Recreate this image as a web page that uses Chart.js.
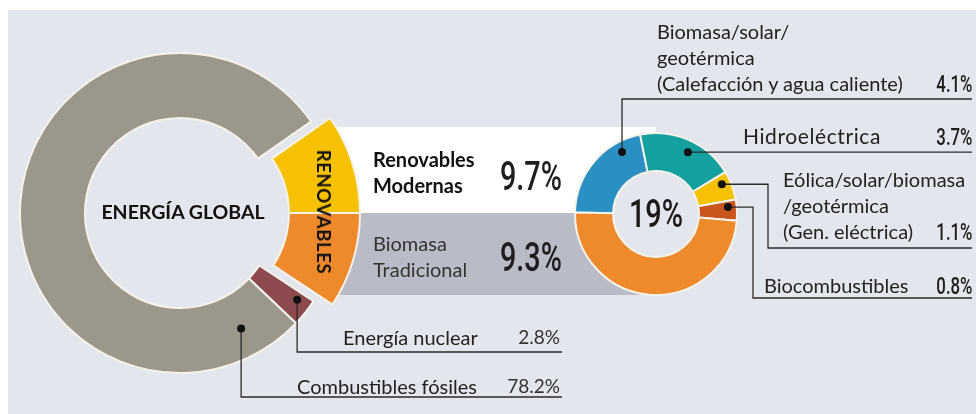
<!DOCTYPE html>
<html>
<head>
<meta charset="utf-8">
<script src="https://cdn.jsdelivr.net/npm/chart.js@4"></script>
<style>
  html,body{margin:0;padding:0;background:#fff;}
  #wrap{position:relative;width:976px;height:414px;overflow:hidden;background:#fff;}
  #bg{position:absolute;left:8px;top:10px;right:0;bottom:0;background:#e4e6ee;}
  #boxW{position:absolute;left:338px;top:127px;width:318px;height:86px;background:#ffffff;}
  #boxG{position:absolute;left:338px;top:213px;width:318px;height:82px;background:#b9bcc7;}
  canvas{position:absolute;left:0;top:0;}
  .t{position:absolute;white-space:pre;font-family:Lato,'Open Sans',sans-serif;font-size:20px;line-height:26px;color:#222;}
  .b{font-weight:700;color:#111;}
  .n{position:absolute;white-space:nowrap;font-family:Roboto,sans-serif;font-weight:500;color:#1e1e1e;transform-origin:100% 50%;}
  .nl{transform-origin:0 50%;}
</style>
</head>
<body>
<div id="wrap">
  <div id="bg"></div>
  <div id="boxW"></div>
  <div id="boxG"></div>
  <canvas id="cA" width="976" height="414"></canvas>
  <canvas id="cB" width="976" height="414"></canvas>
  <canvas id="cC" width="976" height="414"></canvas>
  <div id="labels"></div>
</div>
<script>
// ---- data ----
const globalCats = ['Renovables Modernas', 'Biomasa Tradicional', 'Energía nuclear', 'Combustibles fósiles'];
const globalValues = [9.7, 9.3, 2.8, 78.2];
const renewCats = ['Biomasa/solar/\ngeotérmica\n(Calefacción y agua caliente)', 'Hidroeléctrica', 'Eólica/solar/biomasa\n/geotérmica\n(Gen. eléctrica)', 'Biocombustibles', 'Biomasa Tradicional'];
const renewValues = [4.1, 3.7, 1.1, 0.8, 9.3];
const centerLabel = 'ENERGÍA GLOBAL';
const ringLabel = 'RENOVABLES';

// ---- styles ----
const globalColors = ['#f6c100', '#ef8a2c', '#8c4a4f', '#9c978b'];
const renewColors = ['#2a8fc2', '#15a0a0', '#f6c100', '#c8561d', '#ef8a2c'];
const edge = '#f5f2ea';
const clear = 'rgba(0,0,0,0)';
const pageBg = '#e4e6ee';

const connectorPlugin = {
  id: 'connectors',
  beforeDatasetsDraw(chart, args, opts) {
    if (!opts.fillHole) return;
    const el = chart.getDatasetMeta(0).data[0];
    const p = el.getProps(['x','y','innerRadius'], true);
    const ctx = chart.ctx;
    ctx.save();
    ctx.beginPath(); ctx.arc(p.x, p.y, p.innerRadius + 1, 0, Math.PI * 2);
    ctx.fillStyle = opts.fillHole; ctx.fill();
    ctx.restore();
  },
  afterDatasetsDraw(chart, args, opts) {
    const meta = chart.getDatasetMeta(0);
    const ctx = chart.ctx;
    (opts.items || []).forEach(it => {
      const el = meta.data[it.index];
      const p = el.getProps(['x','y','startAngle','endAngle','innerRadius','outerRadius'], true);
      const a = p.startAngle + (p.endAngle - p.startAngle) * it.at;
      const r = p.innerRadius + (p.outerRadius - p.innerRadius) * it.rad;
      const px = p.x + r * Math.cos(a), py = p.y + r * Math.sin(a);
      ctx.save();
      ctx.strokeStyle = '#2b2b2b'; ctx.lineWidth = 1.3;
      ctx.beginPath(); ctx.moveTo(px, py);
      let cx = px, cy = py;
      it.path.forEach(s => { if (s[0] === 'x') cx = s[1]; else cy = s[1]; ctx.lineTo(cx, cy); });
      ctx.stroke();
      ctx.beginPath(); ctx.arc(px, py, 4, 0, Math.PI * 2); ctx.fillStyle = '#111'; ctx.fill();
      ctx.restore();
    });
  }
};

const total = globalValues.reduce((a, b) => a + b, 0);
const rotGlobal = 90 - globalValues[0] / total * 360;
const common = {responsive:false, animation:false, events:[], plugins:{legend:{display:false}, tooltip:{enabled:false}}};

// main ring: fossil + nuclear
new Chart(document.getElementById('cA'), {
  type:'doughnut',
  data:{labels:globalCats, datasets:[{data:globalValues,
    backgroundColor: globalColors.map((c,i)=> i<2 ? clear : c),
    borderColor: globalColors.map((c,i)=> i<2 ? clear : edge),
    borderWidth: globalColors.map((c,i)=> i<2 ? 0 : 2)}]},
  options:Object.assign({}, common, {
    radius:160, cutout:'59.4%', rotation:rotGlobal,
    layout:{padding:{left:0, top:12, right:616, bottom:0}},
    plugins:Object.assign({}, common.plugins, {connectors:{items:[
      {index:3, at:0.066, rad:0.55, path:[['y',397],['x',562]]},
      {index:2, at:0.3, rad:0.78, path:[['y',352],['x',562]]}
    ]}})
  }),
  plugins:[connectorPlugin]
});

// renewables ring (pulled out)
new Chart(document.getElementById('cB'), {
  type:'doughnut',
  data:{labels:globalCats, datasets:[{data:globalValues,
    backgroundColor: globalColors.map((c,i)=> i<2 ? c : clear),
    borderColor: globalColors.map((c,i)=> i<2 ? edge : clear),
    borderWidth: globalColors.map((c,i)=> i<2 ? 2 : 0)}]},
  options:Object.assign({}, common, {
    radius:166, cutout:'57.2%', rotation:rotGlobal,
    layout:{padding:{left:0, top:12, right:588, bottom:0}}
  })
});

// renewables breakdown
new Chart(document.getElementById('cC'), {
  type:'doughnut',
  data:{labels:renewCats, datasets:[{data:renewValues, backgroundColor:renewColors, borderColor:edge, borderWidth:2}]},
  options:Object.assign({}, common, {
    radius:81, cutout:'53%', rotation:-89,
    layout:{padding:{left:556, top:114, right:220, bottom:100}},
    plugins:Object.assign({}, common.plugins, {connectors:{fillHole:pageBg, items:[
      {index:0, at:0.776, rad:0.73, path:[['y',99],['x',972]]},
      {index:1, at:0.55, rad:0.7, path:[['x',972]]},
      {index:2, at:0.33, rad:0.77, path:[['x',768],['y',248],['x',972]]},
      {index:3, at:0.32, rad:0.77, path:[['x',753],['y',298],['x',972]]}
    ]}})
  }),
  plugins:[connectorPlugin]
});

// ---- text ----
const L = document.getElementById('labels');
function txt(s, left, top, cls, extra) {
  const d = document.createElement('div');
  d.className = cls; d.textContent = s;
  d.style.left = left + 'px'; d.style.top = top + 'px';
  if (extra) Object.assign(d.style, extra);
  L.appendChild(d); return d;
}
const pct = v => v.toFixed(1) + '%';
function num(s, x, cy, size, sx, alignRight) {
  const d = document.createElement('div');
  d.className = 'n' + (alignRight ? '' : ' nl');
  d.textContent = s;
  d.style.fontSize = size + 'px';
  d.style.lineHeight = size + 'px';
  d.style.top = (cy - size / 2) + 'px';
  if (alignRight) { d.style.right = (976 - x) + 'px'; } else { d.style.left = x + 'px'; }
  d.style.transform = 'scaleX(' + sx + ')';
  L.appendChild(d); return d;
}

// centre label of big ring
txt(centerLabel, 183, 199, 't b', {transform:'translateX(-50%)', fontSize:'19.5px'});
// rotated ring label
txt(ringLabel, 324, 199, 't b', {transform:'translateX(-50%) rotate(90deg)', fontSize:'18.5px', letterSpacing:'0.6px'});

// box labels
txt(globalCats[0].replace(' ', '\n'), 373, 146, 't b');
txt(globalCats[1].replace(' ', '\n'), 373, 230, 't', {color:'#333'});
num(pct(globalValues[0]), 500, 177, 40, 0.72, false);
num(pct(globalValues[1]), 500, 258, 40, 0.72, false);

// small donut centre
const renewTotal = renewValues.reduce((a, b) => a + b, 0);
const c19 = num(Math.round(renewTotal) + '%', 656, 214, 38, 0.76, false);
c19.style.left = '656px';
c19.style.transformOrigin = '50% 50%';
c19.style.transform = 'translateX(-50%) scaleX(0.76)';
c19.style.color = '#1a1a1a';

// right labels
txt(renewCats[0], 657, 18, 't');
num(pct(renewValues[0]), 972, 84, 23, 0.73, true);
txt(renewCats[1], 743, 123, 't', {letterSpacing:'0.6px', fontSize:'21px'});
num(pct(renewValues[1]), 972, 137, 23, 0.73, true);
txt(renewCats[2], 783, 166, 't');
num(pct(renewValues[2]), 972, 232, 23, 0.73, true);
txt(renewCats[3], 764, 272, 't');
num(pct(renewValues[3]), 972, 286, 23, 0.73, true);

// bottom labels
txt(globalCats[2], 343, 324, 't', {color:'#222'});
txt(pct(globalValues[2]), 560, 324, 't', {transform:'translateX(-100%)', color:'#333', fontSize:'19px'});
txt(globalCats[3], 297, 373, 't', {color:'#222'});
txt(pct(globalValues[3]), 560, 373, 't', {transform:'translateX(-100%)', color:'#333', fontSize:'19px'});
</script>
</body>
</html>
